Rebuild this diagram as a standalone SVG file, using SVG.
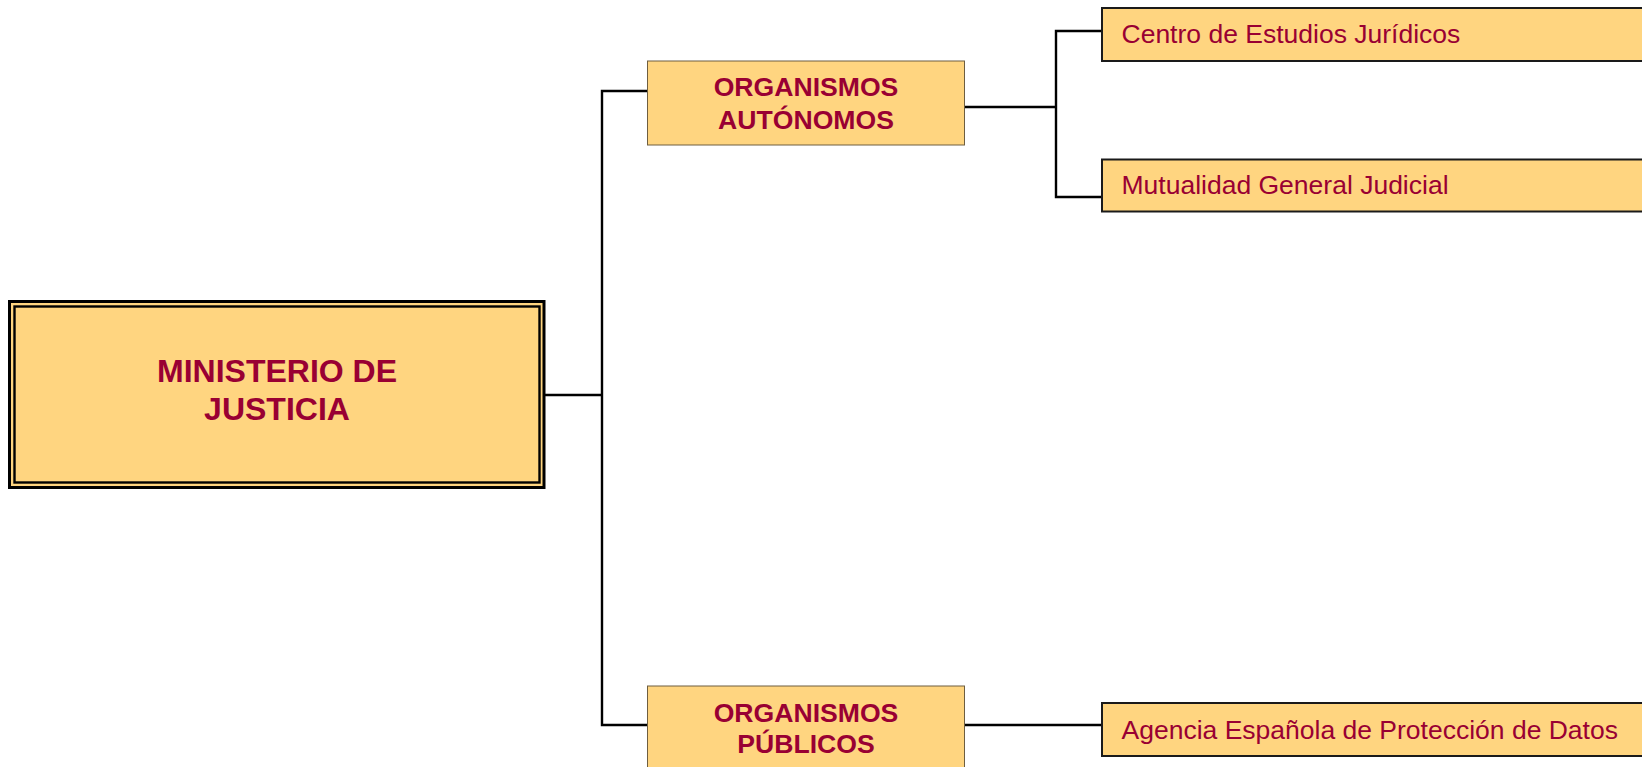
<svg xmlns="http://www.w3.org/2000/svg" width="1642" height="767" viewBox="0 0 1642 767">
<style>
.bold{font-family:"Liberation Sans",Arial,sans-serif;font-weight:bold;fill:#990033;text-anchor:middle}
.reg{font-family:"Liberation Sans",Arial,sans-serif;font-size:26.5px;fill:#990033}
.org{fill:#FFD580;stroke:#6E5E40;stroke-width:1}
.leaf{fill:#FFD580;stroke:#1a1a1a;stroke-width:2}
.conn{fill:none;stroke:#000;stroke-width:2.4}
</style>
<rect width="1642" height="767" fill="#ffffff"/>
<g id="connectors">
<polyline class="conn" points="545,395 602,395"/>
<polyline class="conn" points="647,91 602,91 602,725 647,725"/>
<polyline class="conn" points="964.5,107 1056,107"/>
<polyline class="conn" points="1101.5,31 1056,31 1056,197 1101.5,197"/>
<polyline class="conn" points="964.5,725 1101.5,725"/>
</g>
<g id="ministerio">
<rect x="9.5" y="301.5" width="534.5" height="186" fill="#FFD580" stroke="#000" stroke-width="3"/>
<rect x="14.5" y="306.5" width="525" height="176" fill="#FFD580" stroke="#000" stroke-width="2.4"/>
<text class="bold" font-size="32" x="277" y="382">MINISTERIO DE</text>
<text class="bold" font-size="32" x="277" y="420">JUSTICIA</text>
</g>
<g id="org-autonomos">
<rect class="org" x="647.5" y="61" width="317" height="84"/>
<text class="bold" font-size="26.6" x="806" y="96">ORGANISMOS</text>
<text class="bold" font-size="26.6" x="806" y="128.5">AUTÓNOMOS</text>
</g>
<g id="org-publicos">
<rect class="org" x="647.5" y="686" width="317" height="90"/>
<text class="bold" font-size="26.6" x="806" y="721.5">ORGANISMOS</text>
<text class="bold" font-size="26.6" x="806" y="752.5">PÚBLICOS</text>
</g>
<g id="centro">
<rect class="leaf" x="1102" y="8" width="560" height="53"/>
<text class="reg" x="1121.5" y="43">Centro de Estudios Jurídicos</text>
</g>
<g id="mutualidad">
<rect class="leaf" x="1102" y="159.5" width="560" height="52"/>
<text class="reg" x="1121.5" y="194">Mutualidad General Judicial</text>
</g>
<g id="agencia">
<rect class="leaf" x="1102" y="703" width="560" height="53"/>
<text class="reg" x="1121.5" y="738.5">Agencia Española de Protección de Datos</text>
</g>
</svg>
